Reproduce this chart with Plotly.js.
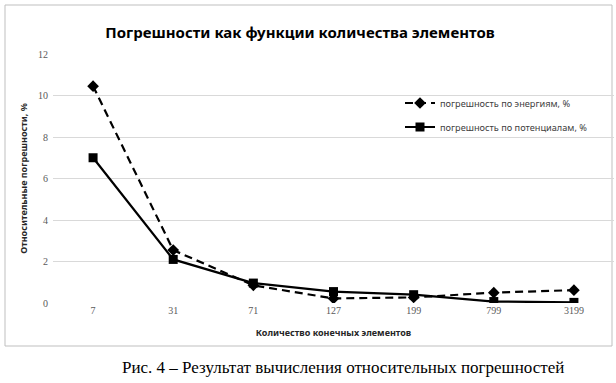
<!DOCTYPE html>
<html>
<head>
<meta charset="utf-8">
<script src="https://cdn.plot.ly/plotly-3.0.1.min.js"></script>
<style>
html,body{margin:0;padding:0;background:#fff;}
#chart{width:616px;height:383px;}
</style>
</head>
<body>
<div id="chart"></div>
<script>
var categories = ["7", "31", "71", "127", "199", "799", "3199"];
var energyErr = [10.45, 2.55, 0.85, 0.22, 0.27, 0.5, 0.62];
var potentialErr = [7.0, 2.1, 0.96, 0.55, 0.4, 0.07, 0.03];
var yTicks = [0, 2, 4, 6, 8, 10, 12];

var L = 53, R = 2, T = 54, B = 80, W = 616, H = 383;
var pw = W - L - R, ph = H - T - B;
function px(x){ return (x - L) / pw; }
function py(y){ return (H - B - y) / ph; }

var traces = [
  {
    x: categories, y: energyErr, name: "погрешность по энергиям, %",
    type: "scatter", mode: "lines+markers",
    line: {color: "#000", width: 2.2, dash: "8px,5px"},
    marker: {symbol: "diamond", size: 9, color: "#000"},
    legend: "legend"
  },
  {
    x: categories, y: potentialErr, name: "погрешность по потенциалам, %",
    type: "scatter", mode: "lines+markers",
    line: {color: "#000", width: 2.2},
    marker: {symbol: "square", size: 9, color: "#000"},
    legend: "legend2"
  }
];

var legFont = {family: "Noto Sans, sans-serif", size: 9.2, color: "#404040"};
var layout = {
  width: W, height: H,
  margin: {l: L, r: R, t: T, b: B},
  paper_bgcolor: "#fff", plot_bgcolor: "#fff",
  font: {family: "Noto Sans, sans-serif", color: "#595959"},
  title: {
    text: "<b>Погрешности как функции количества элементов</b>",
    font: {family: "Noto Sans, sans-serif", size: 15, color: "#000"},
    xref: "container", x: 300 / W, xanchor: "center",
    yref: "container", y: 1 - 33 / H, yanchor: "middle"
  },
  xaxis: {
    type: "category", range: [-0.5, 6.5],
    showgrid: false, zeroline: false, showline: false,
    ticks: "", tickfont: {family: "Liberation Serif, serif", size: 10, color: "#595959"},
    title: {text: "<b>Количество конечных элементов</b>",
      font: {family: "Noto Sans, sans-serif", size: 9, color: "#262626"}, standoff: 14}
  },
  yaxis: {
    range: [0, 12], tickvals: yTicks, ticktext: yTicks.map(String),
    showgrid: true, gridcolor: "#d9d9d9", gridwidth: 1,
    zeroline: false, showline: false, ticks: "", ticklabelstandoff: 4,
    tickfont: {family: "Liberation Serif, serif", size: 10, color: "#595959"},
    title: {text: "<b>Относительные погрешности, %</b>",
      font: {family: "Noto Sans, sans-serif", size: 9, color: "#262626"}, standoff: 8}
  },
  showlegend: true,
  legend: {x: px(400), y: py(103), xanchor: "left", yanchor: "middle",
    font: legFont, bgcolor: "rgba(0,0,0,0)"},
  legend2: {x: px(400), y: py(127), xanchor: "left", yanchor: "middle",
    font: legFont, bgcolor: "rgba(0,0,0,0)"},
  shapes: [
    {type: "rect", xref: "paper", yref: "paper",
     x0: px(5), x1: px(612), y0: py(346), y1: py(5),
     line: {color: "#bfbfbf", width: 1}, fillcolor: "rgba(0,0,0,0)", layer: "below"}
  ],
  annotations: [
    {text: "Рис. 4 – Результат вычисления относительных погрешностей",
     xref: "paper", yref: "paper", x: px(343), y: py(367),
     xanchor: "center", yanchor: "middle", showarrow: false,
     font: {family: "Liberation Serif, Times New Roman, serif", size: 17, color: "#000"}}
  ]
};

Plotly.newPlot("chart", traces, layout, {displayModeBar: false, staticPlot: true});
</script>
</body>
</html>
